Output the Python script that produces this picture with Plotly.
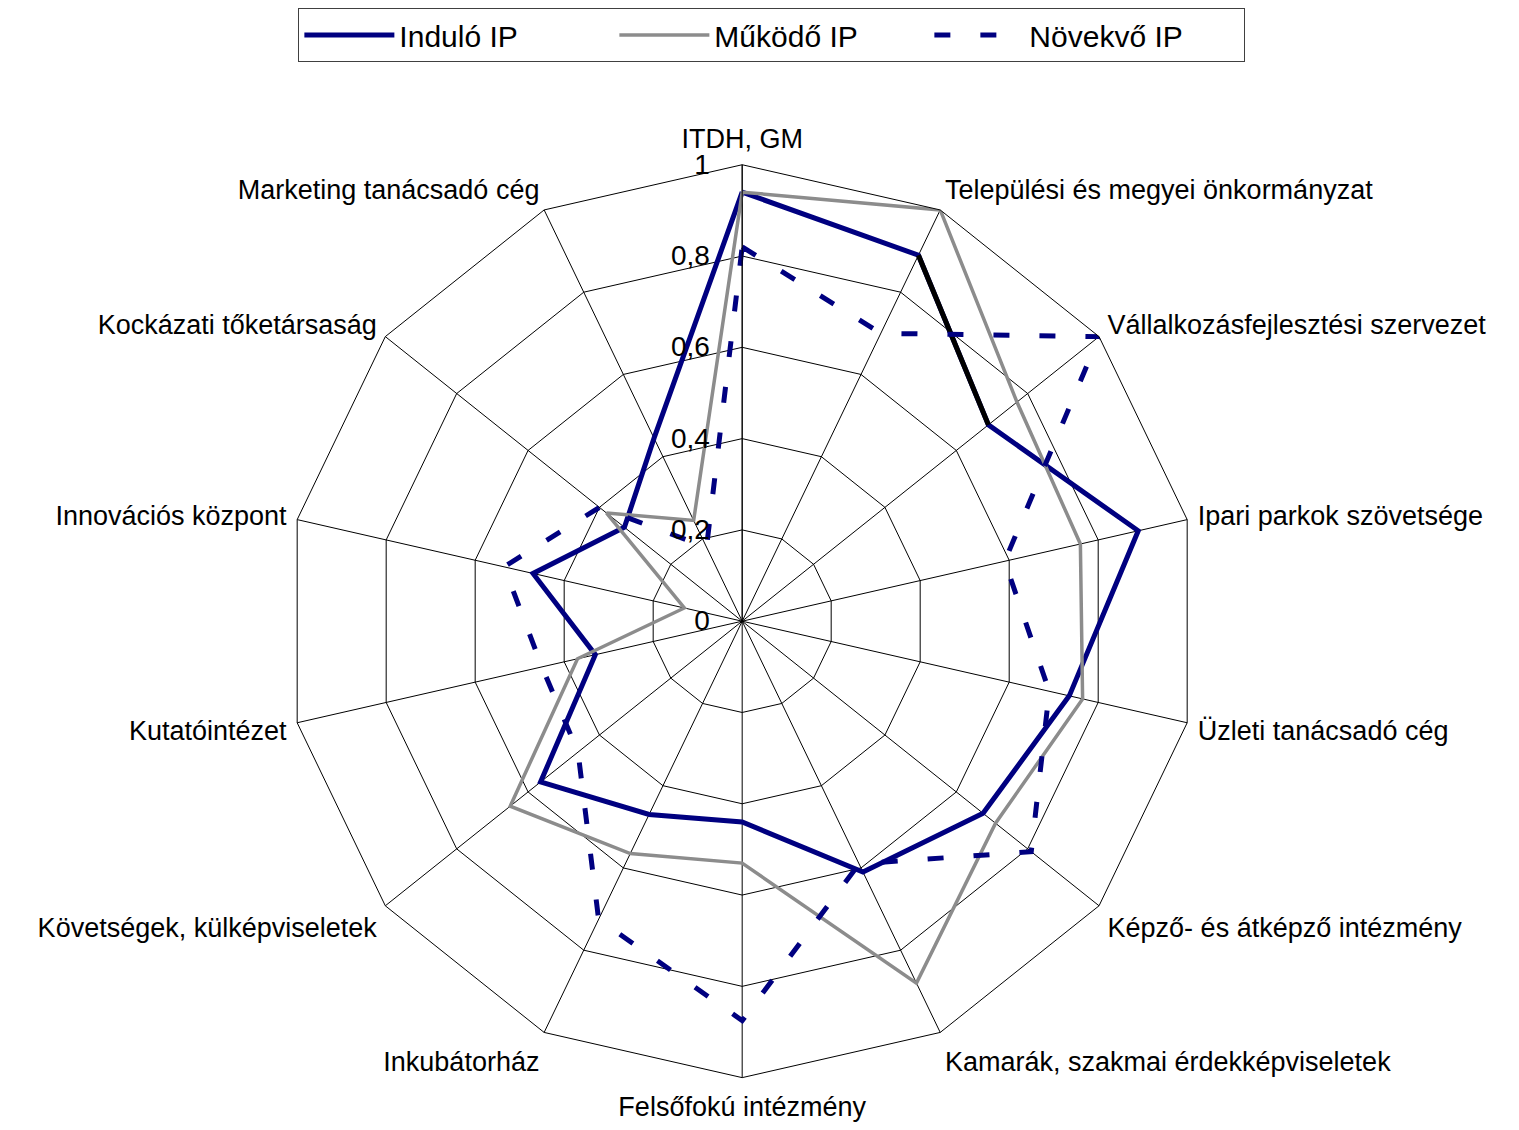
import plotly.graph_objects as go

categories = [
    "ITDH, GM",
    "Települési és megyei önkormányzat",
    "Vállalkozásfejlesztési szervezet",
    "Ipari parkok szövetsége",
    "Üzleti tanácsadó cég",
    "Képző- és átképző intézmény",
    "Kamarák, szakmai érdekképviseletek",
    "Felsőfokú intézmény",
    "Inkubátorház",
    "Követségek, külképviseletek",
    "Kutatóintézet",
    "Innovációs központ",
    "Kockázati tőketársaság",
    "Marketing tanácsadó cég",
]

indulo = [0.94, 0.89, 0.69, 0.89, 0.735, 0.675, 0.61, 0.44, 0.47, 0.565, 0.33, 0.47, 0.33, 0.445]
mukodo = [0.94, 1.0, 0.77, 0.76, 0.765, 0.71, 0.88, 0.53, 0.565, 0.65, 0.37, 0.13, 0.38, 0.245]
novekvo = [0.82, 0.70, 1.0, 0.59, 0.69, 0.81, 0.59, 0.875, 0.725, 0.46, 0.45, 0.535, 0.40, 0.18]

radial_ticks = [0, 0.2, 0.4, 0.6, 0.8, 1]

NAVY = "#000080"
GRAY = "#8c8c8c"
FONT = "Liberation Sans, Arial, sans-serif"


def closed(vals):
    return vals + vals[:1]


fig = go.Figure()

fig.add_trace(
    go.Scatterpolar(
        r=closed(indulo),
        theta=closed(categories),
        mode="lines",
        name="Induló IP",
        line=dict(color=NAVY, width=5),
    )
)
# excel drew this one segment in black
fig.add_trace(
    go.Scatterpolar(
        r=indulo[1:3],
        theta=categories[1:3],
        mode="lines",
        showlegend=False,
        line=dict(color="black", width=5),
    )
)
fig.add_trace(
    go.Scatterpolar(
        r=closed(mukodo),
        theta=closed(categories),
        mode="lines",
        name="Működő IP",
        line=dict(color=GRAY, width=3.5),
    )
)
fig.add_trace(
    go.Scatterpolar(
        r=closed(novekvo),
        theta=closed(categories),
        mode="lines",
        name="Növekvő IP",
        line=dict(color=NAVY, width=5, dash="16px,30px"),
    )
)

half = 463
fig.update_layout(
    paper_bgcolor="white",
    plot_bgcolor="white",
    margin=dict(l=0, r=0, t=0, b=0),
    separators=", ",
    font=dict(family=FONT, color="black", size=27),
    polar=dict(
        domain=dict(
            x=[(742 - half) / 1519, (742 + half) / 1519],
            y=[(1130 - 622 - half) / 1130, (1130 - 622 + half) / 1130],
        ),
        bgcolor="white",
        gridshape="linear",
        angularaxis=dict(
            rotation=90,
            direction="clockwise",
            showline=True,
            linecolor="black",
            linewidth=1,
            gridcolor="black",
            gridwidth=1,
            ticks="outside",
            ticklen=5,
            tickcolor="rgba(0,0,0,0)",
            tickfont=dict(size=27, color="black"),
        ),
        radialaxis=dict(
            range=[0, 1],
            tickvals=radial_ticks,
            angle=90,
            tickangle=90,
            side="counterclockwise",
            showline=True,
            linecolor="black",
            linewidth=1,
            gridcolor="black",
            gridwidth=1,
            ticks="outside",
            ticklen=22,
            tickcolor="rgba(0,0,0,0)",
            tickfont=dict(size=28, color="black"),
        ),
    ),
    legend=dict(
        orientation="h",
        x=772 / 1519,
        xanchor="center",
        y=1.0,
        yanchor="top",
        bordercolor="#404040",
        borderwidth=1,
        bgcolor="white",
        font=dict(size=30, color="black"),
        entrywidth=210,
        itemwidth=90,
    ),
)

fig.write_html("out.html")
